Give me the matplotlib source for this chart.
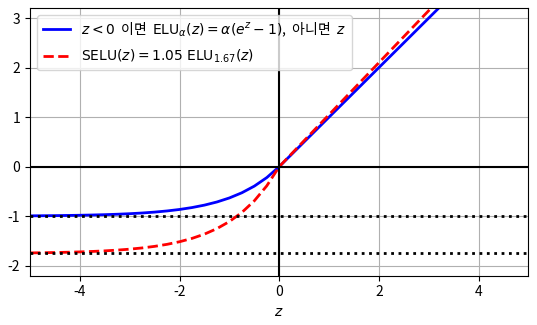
import matplotlib
matplotlib.use("Agg")
import matplotlib.pyplot as plt

plt.rcParams['font.family'] = ['Noto Sans CJK KR', 'DejaVu Sans']
plt.rcParams['axes.unicode_minus'] = False

# negative-side samples (z < 0)
z_neg = [-5.0, -4.75, -4.5, -4.25, -4.0, -3.75, -3.5, -3.25, -3.0, -2.75, -2.5,
         -2.25, -2.0, -1.75, -1.5, -1.25, -1.0, -0.75, -0.5, -0.25, 0.0]
elu_neg = [-0.9933, -0.9913, -0.9889, -0.9857, -0.9817, -0.9765, -0.9698, -0.9612,
           -0.9502, -0.9361, -0.9179, -0.8946, -0.8647, -0.8262, -0.7769, -0.7135,
           -0.6321, -0.5276, -0.3935, -0.2212, 0.0]
selu_neg = [-1.7417, -1.7383, -1.7340, -1.7285, -1.7214, -1.7123, -1.7006, -1.6855,
            -1.6662, -1.6414, -1.6096, -1.5687, -1.5162, -1.4488, -1.3623, -1.2511,
            -1.1084, -0.9252, -0.6900, -0.3879, 0.0]
# positive side (linear)
z_pos = [0.0, 5.0]
elu_pos = [0.0, 5.0]
selu_pos = [0.0, 5.25]

elu_asym = -1.0
selu_asym = -1.7535

z = z_neg + z_pos[1:]
elu = elu_neg + elu_pos[1:]
selu = selu_neg + selu_pos[1:]

fig = plt.figure(figsize=(5.37, 3.25), dpi=100)
ax = fig.add_axes([0.056, 0.152, 0.928, 0.823])

ax.plot(z, elu, 'b-', linewidth=2,
        label=r"$z < 0$  이면  $\mathrm{ELU}_\alpha(z) = \alpha(e^z - 1)$,  아니면  $z$")
ax.plot(z, selu, 'r--', linewidth=2,
        label=r"$\mathrm{SELU}(z) = 1.05\;\mathrm{ELU}_{1.67}(z)$")
ax.plot([-5, 5], [elu_asym, elu_asym], 'k:', linewidth=2)
ax.plot([-5, 5], [selu_asym, selu_asym], 'k:', linewidth=2)
ax.axhline(0, color='k', linewidth=1.5)
ax.axvline(0, color='k', linewidth=1.5)
ax.grid(True)
ax.set_xlim(-5, 5)
ax.set_ylim(-2.2, 3.2)
ax.set_xlabel("$z$")
ax.legend(loc='upper left', labelspacing=0.6)

fig.savefig("out.png", dpi=100)
